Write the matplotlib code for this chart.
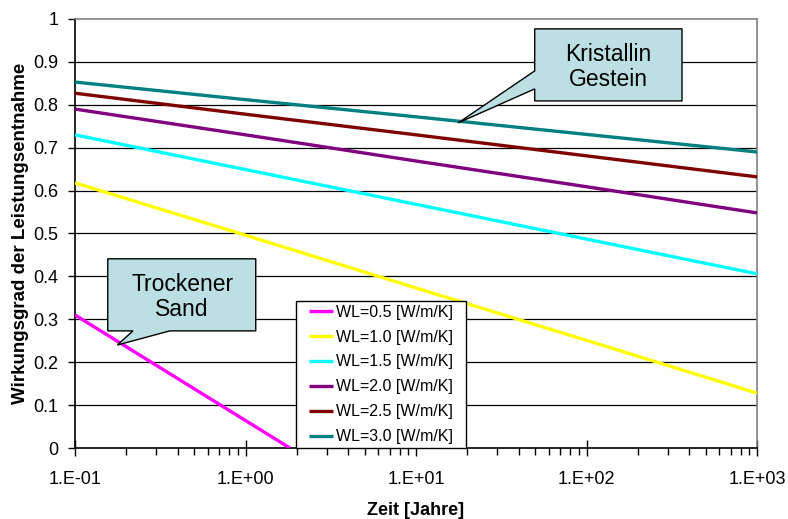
"""
Wirkungsgrad der Leistungsentnahme ueber der Zeit
"""

import numpy as np
import matplotlib
matplotlib.use("Agg")
import matplotlib.pyplot as plt
from matplotlib.patches import Polygon, Rectangle

plt.rcParams['font.family'] = ['Liberation Sans', 'DejaVu Sans']

# Zeit [Jahre], Stuetzstellen je Dekade
years = [0.1, 1.0, 10.0, 100.0, 1000.0]
years_sand = [0.1, 1.0, 1.82]

labels = ["WL=0.5 [W/m/K]", "WL=1.0 [W/m/K]", "WL=1.5 [W/m/K]",
          "WL=2.0 [W/m/K]", "WL=2.5 [W/m/K]", "WL=3.0 [W/m/K]"]
colors = ["#ff00ff", "#ffff00", "#00ffff", "#800080", "#800000", "#008080"]

wl_05 = [0.310, 0.064, 0.0]
wl_10 = [0.618, 0.496, 0.373, 0.251, 0.128]
wl_15 = [0.730, 0.649, 0.568, 0.487, 0.406]
wl_20 = [0.790, 0.730, 0.669, 0.609, 0.548]
wl_25 = [0.827, 0.778, 0.730, 0.681, 0.632]
wl_30 = [0.853, 0.812, 0.772, 0.731, 0.690]

xtick_labels = ["1.E-01", "1.E+00", "1.E+01", "1.E+02", "1.E+03"]

fig = plt.figure(figsize=(7.88, 5.19), dpi=100)
ax = fig.add_axes([0.0952, 0.1368, 0.8655, 0.8266])

series = [(years_sand, wl_05), (years, wl_10), (years, wl_15),
          (years, wl_20), (years, wl_25), (years, wl_30)]
for (x, y), lab, col in zip(series, labels, colors):
    ax.plot(x, y, color=col, lw=2.4, label=lab, solid_capstyle='butt', zorder=3)

ax.set_xscale('log')
ax.set_xlim(0.1, 1000)
ax.set_ylim(0, 1)
ax.set_xticks(years)
ax.set_xticklabels(xtick_labels)
ax.set_yticks(np.arange(0, 1.01, 0.1))
ax.set_yticklabels(["0", "0.1", "0.2", "0.3", "0.4", "0.5",
                    "0.6", "0.7", "0.8", "0.9", "1"])

for yv in np.arange(0.1, 0.95, 0.1):
    ax.axhline(yv, color='black', lw=0.9, zorder=1)

ax.tick_params(axis='x', which='major', direction='inout', length=11,
               width=1, labelsize=13, pad=11)
ax.tick_params(axis='x', which='minor', direction='out', length=5, width=1)
ax.tick_params(axis='y', direction='out', length=5, width=1,
               labelsize=13, pad=7)

for s in ['left', 'bottom']:
    ax.spines[s].set_color('black')
    ax.spines[s].set_linewidth(1.2)
for s in ['top', 'right']:
    ax.spines[s].set_color('#808080')
    ax.spines[s].set_linewidth(1.2)

ax.set_xlabel("Zeit [Jahre]", fontsize=13, fontweight='bold', labelpad=10)
ax.set_ylabel("Wirkungsgrad der Leistungsentnahme", fontsize=13.5,
              fontweight='bold', labelpad=3)

# Legendenkasten separat, damit die Groesse stimmt
ax.add_patch(Rectangle((0.324, 0.0), 0.249, 0.343, transform=ax.transAxes,
                       facecolor='white', edgecolor='black', lw=1.0,
                       zorder=4, clip_on=False))
leg = ax.legend(loc='center', bbox_to_anchor=(0.4485, 0.1715),
                frameon=False, fontsize=11.5, handlelength=1.5,
                handletextpad=0.2, labelspacing=0.62, borderpad=0.0)
leg.set_zorder(5)

# Callouts
box_col = "#bbdfe3"
kristallin = [(0.674, 0.809), (0.674, 0.837), (0.562, 0.758), (0.674, 0.879),
              (0.674, 0.977), (0.890, 0.977), (0.890, 0.809)]
sand = [(0.048, 0.273), (0.085, 0.273), (0.062, 0.240), (0.139, 0.273),
        (0.265, 0.273), (0.265, 0.441), (0.048, 0.441)]
for pts in (kristallin, sand):
    ax.add_patch(Polygon(pts, closed=True, transform=ax.transAxes,
                         facecolor=box_col, edgecolor='black', lw=1.0,
                         zorder=6, clip_on=False))

ax.text(0.782, 0.888, "Kristallin\nGestein", transform=ax.transAxes,
        ha='center', va='center', fontsize=16.5, linespacing=1.15, zorder=7)
ax.text(0.157, 0.352, "Trockener\nSand", transform=ax.transAxes,
        ha='center', va='center', fontsize=16.5, linespacing=1.15, zorder=7)

fig.savefig("out.png", dpi=100)
